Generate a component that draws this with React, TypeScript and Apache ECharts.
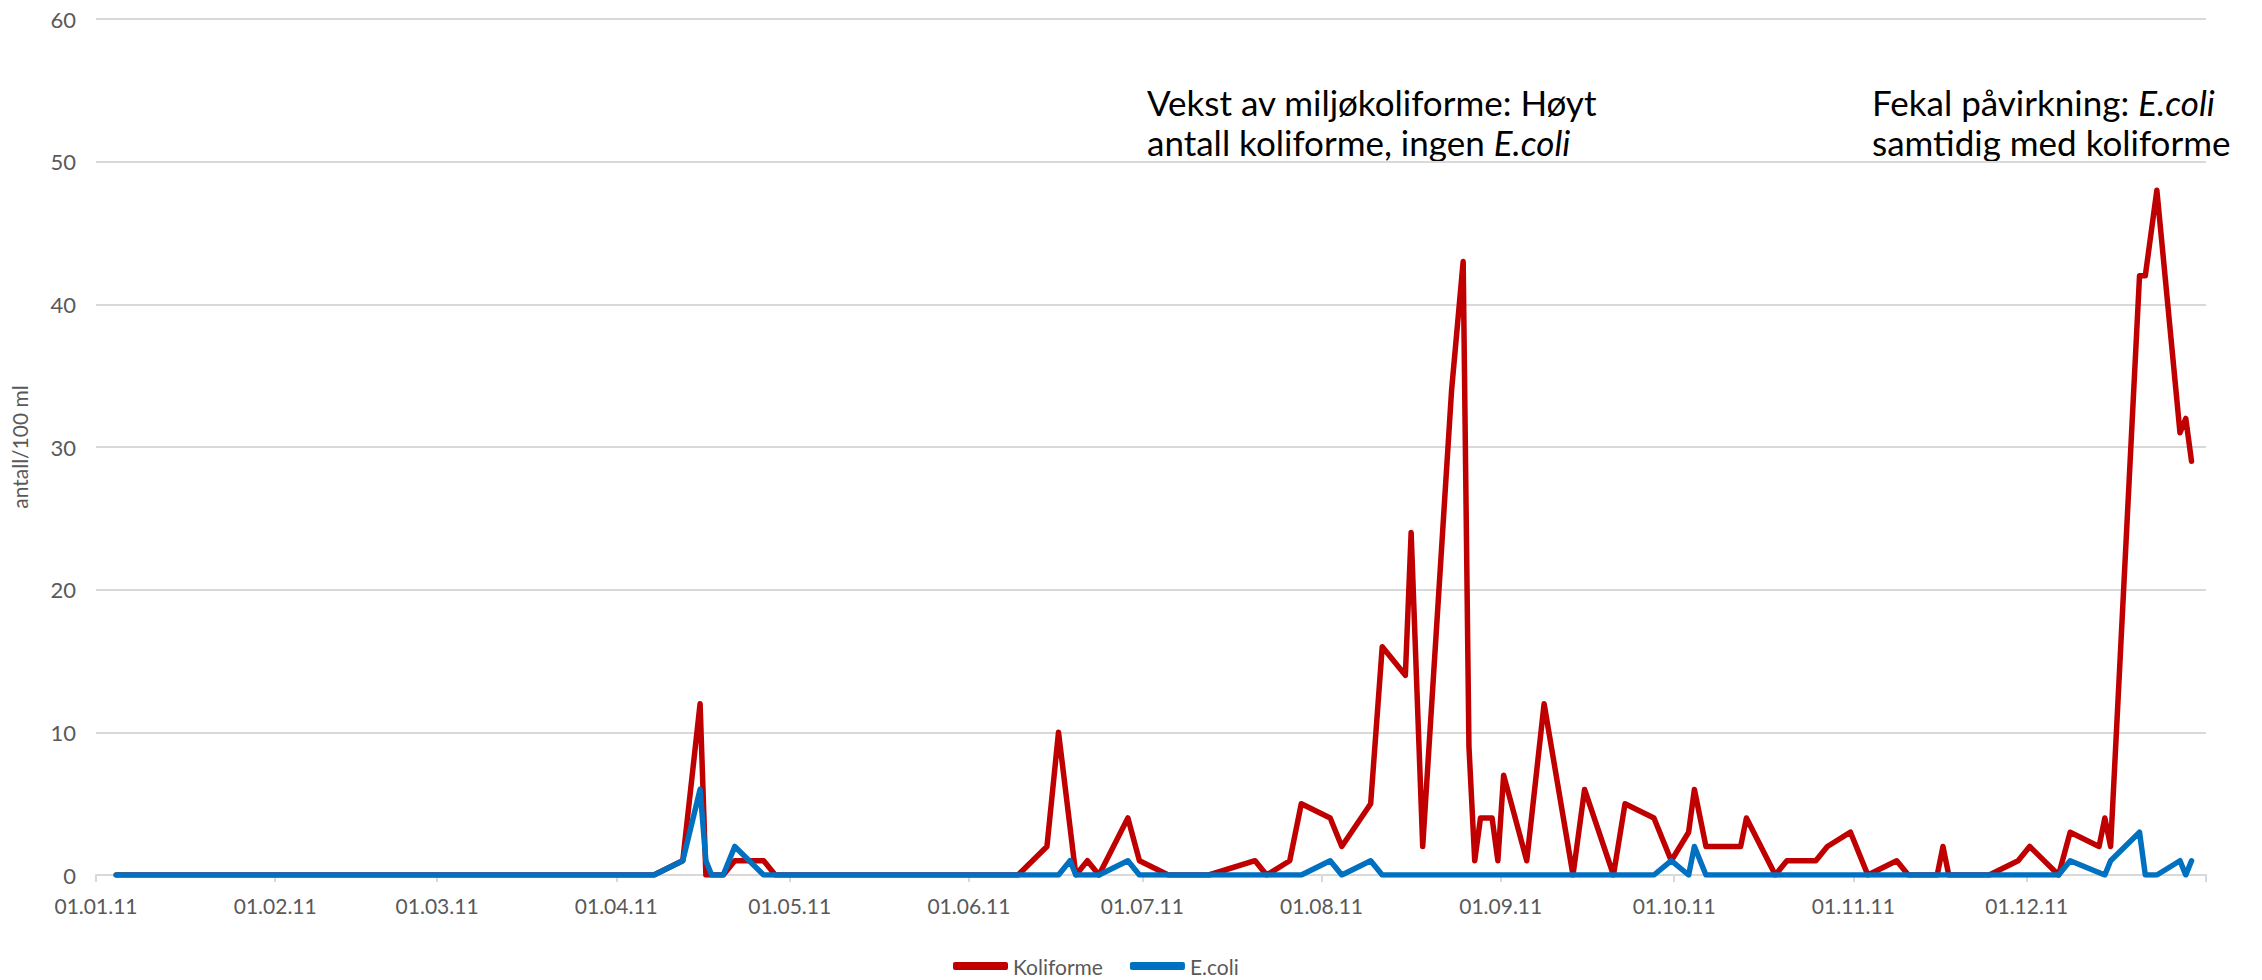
import React, { useEffect, useRef } from "react";
import * as echarts from "echarts";

const monthStarts = [
  "2011-01-01", "2011-02-01", "2011-03-01", "2011-04-01", "2011-05-01", "2011-06-01",
  "2011-07-01", "2011-08-01", "2011-09-01", "2011-10-01", "2011-11-01", "2011-12-01",
];
const tickLabels = [
  "01.01.11", "01.02.11", "01.03.11", "01.04.11", "01.05.11", "01.06.11",
  "01.07.11", "01.08.11", "01.09.11", "01.10.11", "01.11.11", "01.12.11",
];
const axisEnd = "2012-01-01";

const koliDates = [
  "2011-01-04", "2011-04-07", "2011-04-12", "2011-04-15", "2011-04-16", "2011-04-17",
  "2011-04-19", "2011-04-21", "2011-04-26", "2011-04-28", "2011-06-09", "2011-06-14",
  "2011-06-16", "2011-06-19", "2011-06-21", "2011-06-23", "2011-06-28", "2011-06-30",
  "2011-07-05", "2011-07-12", "2011-07-20", "2011-07-22", "2011-07-26", "2011-07-28",
  "2011-08-02", "2011-08-04", "2011-08-09", "2011-08-11", "2011-08-15", "2011-08-16",
  "2011-08-18", "2011-08-23", "2011-08-25", "2011-08-26", "2011-08-27", "2011-08-28",
  "2011-08-30", "2011-08-31", "2011-09-01", "2011-09-05", "2011-09-08", "2011-09-13",
  "2011-09-15", "2011-09-20", "2011-09-22", "2011-09-27", "2011-09-30", "2011-10-03",
  "2011-10-04", "2011-10-06", "2011-10-12", "2011-10-13", "2011-10-18", "2011-10-20",
  "2011-10-25", "2011-10-27", "2011-10-31", "2011-11-03", "2011-11-08", "2011-11-10",
  "2011-11-15", "2011-11-16", "2011-11-17", "2011-11-24", "2011-11-29", "2011-12-01",
  "2011-12-06", "2011-12-08", "2011-12-13", "2011-12-14", "2011-12-15", "2011-12-20",
  "2011-12-21", "2011-12-23", "2011-12-27", "2011-12-28", "2011-12-29",
];
const koliValues = [
  0, 0, 1, 12, 0, 0,
  0, 1, 1, 0, 0, 2,
  10, 0, 1, 0, 4, 1,
  0, 0, 1, 0, 1, 5,
  4, 2, 5, 16, 14, 24,
  2, 34, 43, 9, 1, 4,
  4, 1, 7, 1, 12, 0,
  6, 0, 5, 4, 1, 3,
  6, 2, 2, 4, 0, 1,
  1, 2, 3, 0, 1, 0,
  0, 2, 0, 0, 1, 2,
  0, 3, 2, 4, 2, 42,
  42, 48, 31, 32, 29,
];

const ecoliDates = [
  "2011-01-04", "2011-04-07", "2011-04-12", "2011-04-15", "2011-04-16", "2011-04-17",
  "2011-04-19", "2011-04-21", "2011-04-26", "2011-06-16", "2011-06-18", "2011-06-19",
  "2011-06-23", "2011-06-28", "2011-06-30", "2011-07-28", "2011-08-02", "2011-08-04",
  "2011-08-09", "2011-08-11", "2011-09-27", "2011-09-30", "2011-10-03", "2011-10-04",
  "2011-10-06", "2011-12-06", "2011-12-08", "2011-12-14", "2011-12-15", "2011-12-20",
  "2011-12-21", "2011-12-23", "2011-12-27", "2011-12-28", "2011-12-29",
];
const ecoliValues = [
  0, 0, 1, 6, 1, 0,
  0, 2, 0, 0, 1, 0,
  0, 1, 0, 0, 1, 0,
  1, 0, 0, 1, 0, 2,
  0, 0, 1, 0, 1, 3,
  0, 0, 1, 0, 1,
];

const yTicks = [0, 10, 20, 30, 40, 50, 60];

function dayOf(d: string): number {
  const t = Date.UTC(+d.slice(0, 4), +d.slice(5, 7) - 1, +d.slice(8, 10));
  return (t - Date.UTC(2011, 0, 1)) / 86400000;
}

// each sample plotted at the middle of its day slot
const toPoints = (dates: string[], vals: number[]) =>
  dates.map((d, i) => [dayOf(d) + 0.5, vals[i]]);

const FONT = "Lato, 'Open Sans', sans-serif";

export default function App() {
  const ref = useRef<HTMLDivElement>(null);

  useEffect(() => {
    if (!ref.current) return;
    const chart = echarts.init(ref.current, undefined, { renderer: "svg" });
    const tickDays = monthStarts.map(dayOf);
    const endDay = dayOf(axisEnd);

    const annoStyle = {
      fontSize: 35,
      fontFamily: FONT,
      fill: "#000000",
      lineHeight: 40,
    };

    chart.setOption({
      animation: false,
      backgroundColor: "#ffffff",
      textStyle: { fontFamily: FONT },
      grid: { left: 96, right: 56, top: 19, bottom: 105, containLabel: false },
      xAxis: {
        type: "value",
        min: 0,
        max: endDay,
        axisLine: { show: true, lineStyle: { color: "#d9d9d9", width: 2 } },
        axisTick: {
          show: true,
          customValues: [...tickDays, endDay],
          length: 7,
          lineStyle: { color: "#d9d9d9", width: 2 },
        },
        axisLabel: {
          customValues: tickDays,
          formatter: (v: number) => {
            const i = tickDays.indexOf(Math.round(v));
            return i >= 0 ? tickLabels[i] : "";
          },
          color: "#595959",
          fontSize: 21,
          fontFamily: FONT,
          margin: 20,
        },
        splitLine: { show: false },
      },
      yAxis: {
        type: "value",
        min: yTicks[0],
        max: yTicks[yTicks.length - 1],
        interval: 10,
        name: "antall/100 ml",
        nameLocation: "middle",
        nameGap: 66,
        nameRotate: 90,
        nameTextStyle: { color: "#595959", fontSize: 21, fontFamily: FONT },
        axisLine: { show: false },
        axisTick: { show: false },
        axisLabel: { color: "#595959", fontSize: 22, fontFamily: FONT, margin: 20 },
        splitLine: { lineStyle: { color: "#d9d9d9", width: 2 } },
      },
      legend: {
        left: 953,
        top: 955,
        padding: 0,
        icon: "roundRect",
        itemWidth: 55,
        itemHeight: 8,
        itemGap: 27,
        textStyle: { color: "#595959", fontSize: 21, lineHeight: 22, fontFamily: FONT },
        data: ["Koliforme", "E.coli"],
      },
      series: [
        {
          name: "Koliforme",
          type: "line",
          data: toPoints(koliDates, koliValues),
          symbol: "none",
          color: "#c00000",
          lineStyle: { color: "#c00000", width: 5.5, cap: "round", join: "round" },
        },
        {
          name: "E.coli",
          type: "line",
          data: toPoints(ecoliDates, ecoliValues),
          symbol: "none",
          color: "#0070c0",
          lineStyle: { color: "#0070c0", width: 5.5, cap: "round", join: "round" },
        },
      ],
      graphic: [
        {
          type: "text",
          left: 1147,
          top: 82,
          style: {
            ...annoStyle,
            text: "Vekst av miljøkoliforme: Høyt\nantall koliforme, ingen {i|E.coli}",
            rich: { i: { ...annoStyle, fontStyle: "italic" } },
          },
        },
        {
          type: "text",
          left: 1872,
          top: 82,
          style: {
            ...annoStyle,
            text: "Fekal påvirkning: {i|E.coli}\nsamtidig med koliforme",
            rich: { i: { ...annoStyle, fontStyle: "italic" } },
          },
        },
      ],
    });

    return () => chart.dispose();
  }, []);

  return (
    <div
      ref={ref}
      style={{ position: "fixed", left: 0, top: 0, width: 2262, height: 980, background: "#fff" }}
    />
  );
}
